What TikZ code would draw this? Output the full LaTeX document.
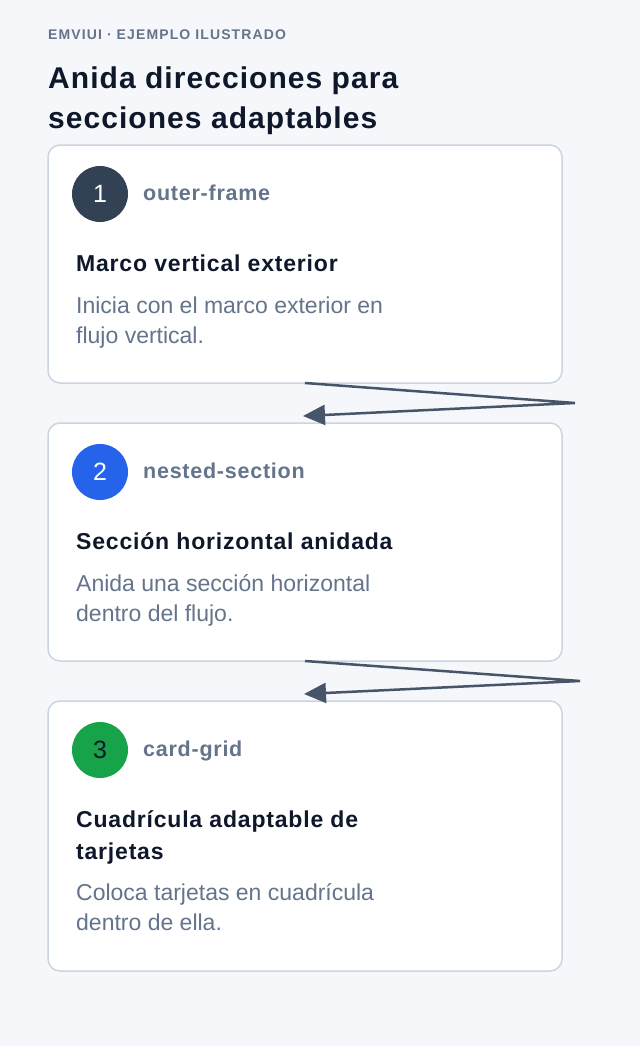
\documentclass[tikz,border=0pt]{standalone}
\usepackage{fontspec}
\setmainfont{Liberation Sans}[BoldFeatures={LetterSpace=3.5}]
\newfontfamily\kickerfont{Liberation Sans}[LetterSpace=8, BoldFeatures={LetterSpace=8}]
\usepackage{tikz}
\usetikzlibrary{arrows.meta, positioning}

\definecolor{pagebg}{HTML}{F5F7FB}
\definecolor{cardline}{HTML}{CBD5E1}
\definecolor{inkdark}{HTML}{0F172A}
\definecolor{inkgray}{HTML}{64748B}
\definecolor{flowline}{HTML}{475569}
\definecolor{stepdark}{HTML}{334155}
\definecolor{stepblue}{HTML}{2563EB}
\definecolor{stepgreen}{HTML}{16A34A}

% fixed first-line height, so north anchors sit at a known distance above the baseline
\newcommand{\linetop}[1]{\rule{0pt}{#1}}

\tikzset{
    card/.style={draw=cardline, line width=1.5pt, fill=white, rounded corners=12pt},
    badge/.style={circle, minimum size=56pt, inner sep=0pt, font=\fontsize{25}{28}\selectfont},
    tag/.style={anchor=base west, inner sep=0pt, text=inkgray, font=\fontsize{21.5}{24}\selectfont\bfseries},
    cardtitle/.style={anchor=north west, inner sep=0pt, align=left, text=inkdark, font=\fontsize{23}{32}\selectfont\bfseries},
    carddesc/.style={anchor=north west, inner sep=0pt, align=left, text=inkgray, font=\fontsize{23}{30}\selectfont},
    flow/.style={draw=flowline, line width=2.5pt, -{Triangle[length=22pt, width=20pt]}}
}

\begin{document}
\begin{tikzpicture}[x=1pt, y=-1pt]
    \useasboundingbox[fill=pagebg] (0,0) rectangle (640,1046);

    % heading
    \node[anchor=base west, inner sep=0pt, text=inkgray, font=\kickerfont\fontsize{14}{16}\selectfont\bfseries] (kicker) at (48,39.7) {EMVIUI · EJEMPLO ILUSTRADO};
    \node[anchor=north west, inner sep=0pt, align=left, text=inkdark, font=\fontsize{30}{40}\selectfont\bfseries] (headline) at (48,60.7)
        {\linetop{28pt}Anida direcciones para\\secciones adaptables};

    % step 1
    \draw[card] (48,145) rectangle (562,383);
    \coordinate (card1-s) at (305,383);
    \node[badge, fill=stepdark, text=white] (badge1) at (100,194) {1};
    \node[tag] (tag1) at (143,200) {outer-frame};
    \node[cardtitle] (title1) at (76,249) {\linetop{22pt}Marco vertical exterior};
    \node[carddesc] (desc1) at (76,293.3) {\linetop{20pt}Inicia con el marco exterior en\\flujo vertical.};

    % step 2
    \draw[card] (48,423) rectangle (562,661);
    \coordinate (card2-n) at (303,416);
    \coordinate (card2-s) at (305,661);
    \node[badge, fill=stepblue, text=white] (badge2) at (100,472) {2};
    \node[tag] (tag2) at (143,478) {nested-section};
    \node[cardtitle] (title2) at (76,527) {\linetop{22pt}Sección horizontal anidada};
    \node[carddesc] (desc2) at (76,571.3) {\linetop{20pt}Anida una sección horizontal\\dentro del flujo.};

    % step 3
    \draw[card] (48,701) rectangle (562,971);
    \coordinate (card3-n) at (304,694);
    \node[badge, fill=stepgreen, text=inkdark] (badge3) at (100,750) {3};
    \node[tag] (tag3) at (143,756) {card-grid};
    \node[cardtitle] (title3) at (76,805) {\linetop{22pt}Cuadrícula adaptable de\\tarjetas};
    \node[carddesc] (desc3) at (76,880) {\linetop{20pt}Coloca tarjetas en cuadrícula\\dentro de ella.};

    % connectors
    \coordinate (turn1) at (575,403);
    \coordinate (turn2) at (580,681);
    \draw[flow] (card1-s) -- (turn1) -- (card2-n);
    \draw[flow] (card2-s) -- (turn2) -- (card3-n);
\end{tikzpicture}
\end{document}
